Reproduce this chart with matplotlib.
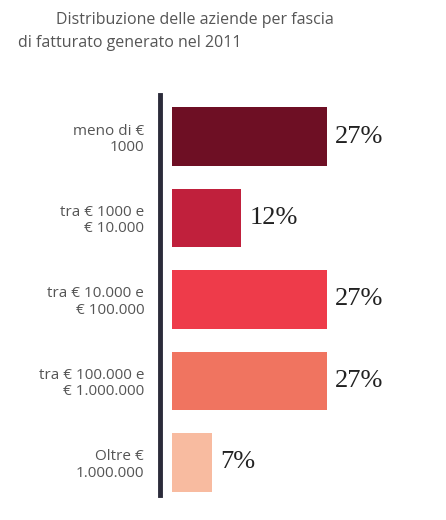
import matplotlib
matplotlib.use("Agg")
import matplotlib.pyplot as plt

categories = ["meno di €\n1000", "tra € 1000 e\n€ 10.000", "tra € 10.000 e\n€ 100.000",
              "tra € 100.000 e\n€ 1.000.000", "Oltre €\n1.000.000"]
values = [27, 12, 27, 27, 7]
labels = ["27%", "12%", "27%", "27%", "7%"]
colors = ["#6e0f24", "#c0203c", "#ee3b4a", "#f07460", "#f8bba0"]

fig = plt.figure(figsize=(4.46, 5.2), dpi=100)
ax = fig.add_axes([172/446, 1-495/520, 274/446, 400/520])
y = list(range(len(values)))
ax.barh(y, values, height=0.72, color=colors)
ax.set_xlim(0, 27*274/155)
ax.set_ylim(4.40, -0.51)
for s in ["top", "right", "bottom"]:
    ax.spines[s].set_visible(False)
ax.spines["left"].set_position(("outward", 9))
ax.spines["left"].set_linewidth(3.5)
ax.spines["left"].set_color("#2b2b3a")
ax.set_xticks([])
ax.set_yticks(y)
ax.set_yticklabels(categories, fontsize=11, color="#555555", family="Open Sans",
                   multialignment="right", linespacing=1.1)
ax.tick_params(axis="y", length=0, pad=11)
for yi, v, l in zip(y, values, labels):
    ax.annotate(l, (v, yi), xytext=(6, 0), textcoords="offset points",
                va="center", ha="left", fontsize=19, family="Liberation Serif", color="#222222")
fig.text(56/446, 1-24/520, "Distribuzione delle aziende per fascia", fontsize=11.5,
         color="#555555", family="Open Sans", va="baseline")
fig.text(18/446, 1-47/520, "di fatturato generato nel 2011", fontsize=11.5,
         color="#555555", family="Open Sans", va="baseline")
fig.savefig("out.png", dpi=100, facecolor="white")
